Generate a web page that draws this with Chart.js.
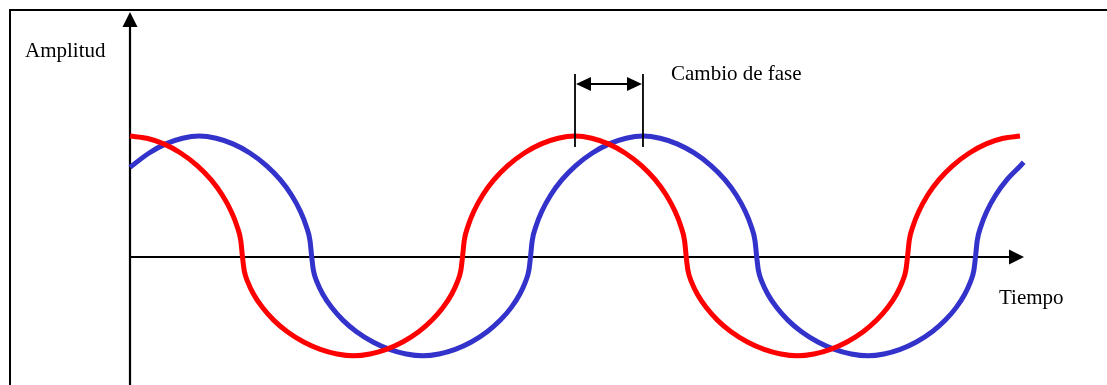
<!DOCTYPE html>
<html>
<head>
<meta charset="utf-8">
<script src="https://cdn.jsdelivr.net/npm/chart.js@4/dist/chart.umd.min.js"></script>
<style>
  html, body { margin: 0; padding: 0; background: #fff; }
  #wrap { width: 1107px; height: 385px; position: relative; }
</style>
</head>
<body>
<div id="wrap"><canvas id="c"></canvas></div>
<script>
// Time in degrees of phase, amplitude in arbitrary units
const redTime = [0, 13.65, 27.3, 40.95, 54.6, 65.52, 74.62, 81.9, 86.45, 89.64, 91,
  92.35, 95.5, 100, 107.2, 116.2, 127, 140.5, 154, 167.5, 181,
  194.2, 207.4, 220.6, 233.8, 244.36, 253.16, 260.2, 264.6, 267.68, 269,
  270.37, 273.55, 278.1, 285.38, 294.48, 305.4, 319.05, 332.7, 346.35, 360,
  373.5, 387, 400.5, 414, 424.8, 433.8, 441, 445.5, 448.65, 450,
  451.35, 454.5, 459, 466.2, 475.2, 486, 499.5, 513, 526.5, 540,
  553.35, 566.7, 580.05, 593.4, 604.08, 612.98, 620.1, 624.55, 627.67, 629,
  630.37, 633.55, 638.1, 645.38, 654.48, 665.4, 679.05, 692.7, 706.35, 720];
const redAmp = [1.2, 1.178, 1.122, 1.032, 0.905, 0.767, 0.615, 0.452, 0.311, 0.161, 0,
  -0.131, -0.254, -0.369, -0.502, -0.626, -0.739, -0.843, -0.916, -0.962, -0.98,
  -0.962, -0.916, -0.843, -0.739, -0.626, -0.502, -0.369, -0.254, -0.131, 0,
  0.161, 0.311, 0.452, 0.615, 0.767, 0.905, 1.032, 1.122, 1.178, 1.2,
  1.178, 1.122, 1.032, 0.905, 0.767, 0.615, 0.452, 0.311, 0.161, 0,
  -0.131, -0.254, -0.369, -0.502, -0.626, -0.739, -0.843, -0.916, -0.962, -0.98,
  -0.962, -0.916, -0.843, -0.739, -0.626, -0.502, -0.369, -0.254, -0.131, 0,
  0.161, 0.311, 0.452, 0.615, 0.767, 0.905, 1.032, 1.122, 1.178, 1.2];

const blueTime = [0, 15.5, 29, 42.5, 56,
  69.65, 83.3, 96.95, 110.6, 121.52, 130.62, 137.9, 142.45, 145.64, 147,
  148.35, 151.5, 156, 163.2, 172.2, 183, 196.5, 210, 223.5, 237,
  250.05, 263.1, 276.15, 289.2, 299.64, 308.34, 315.3, 319.65, 322.7, 324,
  325.37, 328.55, 333.1, 340.38, 349.48, 360.4, 374.05, 387.7, 401.35, 415,
  428.8, 442.6, 456.4, 470.2, 481.24, 490.44, 497.8, 502.4, 505.62, 507,
  508.35, 511.5, 516, 523.2, 532.2, 543, 556.5, 570, 583.5, 597,
  610.05, 623.1, 636.15, 649.2, 659.64, 668.34, 675.3, 679.65, 682.7, 684,
  685.37, 688.55, 693.1, 700.38, 709.48, 720.4, 723];
const blueAmp = [0.89, 1.032, 1.122, 1.178, 1.2,
  1.178, 1.122, 1.032, 0.905, 0.767, 0.615, 0.452, 0.311, 0.161, 0,
  -0.131, -0.254, -0.369, -0.502, -0.626, -0.739, -0.843, -0.916, -0.962, -0.98,
  -0.962, -0.916, -0.843, -0.739, -0.626, -0.502, -0.369, -0.254, -0.131, 0,
  0.161, 0.311, 0.452, 0.615, 0.767, 0.905, 1.032, 1.122, 1.178, 1.2,
  1.178, 1.122, 1.032, 0.905, 0.767, 0.615, 0.452, 0.311, 0.161, 0,
  -0.131, -0.254, -0.369, -0.502, -0.626, -0.739, -0.843, -0.916, -0.962, -0.98,
  -0.962, -0.916, -0.843, -0.739, -0.626, -0.502, -0.369, -0.254, -0.131, 0,
  0.161, 0.311, 0.452, 0.615, 0.767, 0.905, 0.94];

// Phase change marked between these two peaks (red, blue)
const phasePeaks = [360, 415];

const labels = { yAxis: 'Amplitud', xAxis: 'Tiempo', phase: 'Cambio de fase' };

const toPts = (xs, ys) => xs.map((x, i) => ({ x: x, y: ys[i] }));

const FONT = '21px "Liberation Serif", "Times New Roman", serif';

function arrowHead(ctx, tipX, tipY, dirX, dirY, len, half) {
  const bx = tipX - dirX * len, by = tipY - dirY * len;
  const px = -dirY, py = dirX;
  ctx.beginPath();
  ctx.moveTo(tipX, tipY);
  ctx.lineTo(bx + px * half, by + py * half);
  ctx.lineTo(bx - px * half, by - py * half);
  ctx.closePath();
  ctx.fill();
}

const diagramPlugin = {
  id: 'diagram',
  beforeDatasetsDraw(chart) {
    const ctx = chart.ctx;
    const xs = chart.scales.x, ys = chart.scales.y;
    const x0 = xs.getPixelForValue(0);
    const y0 = ys.getPixelForValue(0);
    const yTop = ys.getPixelForValue(ys.max);
    const xEnd = xs.getPixelForValue(xs.max);
    ctx.save();
    // frame (top and left)
    ctx.strokeStyle = '#000';
    ctx.lineWidth = 2;
    ctx.beginPath();
    ctx.moveTo(10, chart.height);
    ctx.lineTo(10, 10);
    ctx.lineTo(chart.width, 10);
    ctx.stroke();
    // vertical axis
    ctx.lineWidth = 2.2;
    ctx.beginPath();
    ctx.moveTo(x0, chart.height);
    ctx.lineTo(x0, yTop + 10);
    ctx.stroke();
    ctx.fillStyle = '#000';
    arrowHead(ctx, x0, yTop, 0, -1, 15, 7.5);
    // horizontal axis
    ctx.beginPath();
    ctx.moveTo(x0, y0);
    ctx.lineTo(xEnd - 10, y0);
    ctx.stroke();
    arrowHead(ctx, xEnd, y0, 1, 0, 15, 7.5);
    // texts
    ctx.font = FONT;
    ctx.textBaseline = 'alphabetic';
    ctx.textAlign = 'left';
    ctx.fillText(labels.yAxis, 25, 57);
    ctx.fillText(labels.xAxis, 999, y0 + 47);
    ctx.restore();
  },
  afterDatasetsDraw(chart) {
    const ctx = chart.ctx;
    const xs = chart.scales.x;
    const xa = xs.getPixelForValue(phasePeaks[0]);
    const xb = xs.getPixelForValue(phasePeaks[1]);
    ctx.save();
    ctx.strokeStyle = '#000';
    ctx.fillStyle = '#000';
    ctx.lineWidth = 1.8;
    ctx.beginPath();
    ctx.moveTo(xa, 74); ctx.lineTo(xa, 147);
    ctx.moveTo(xb, 74); ctx.lineTo(xb, 147);
    ctx.stroke();
    ctx.lineWidth = 2;
    ctx.beginPath();
    ctx.moveTo(xa + 10, 84); ctx.lineTo(xb - 10, 84);
    ctx.stroke();
    arrowHead(ctx, xa + 1, 84, -1, 0, 15, 7);
    arrowHead(ctx, xb - 1, 84, 1, 0, 15, 7);
    ctx.font = FONT;
    ctx.textBaseline = 'alphabetic';
    ctx.textAlign = 'left';
    ctx.fillText(labels.phase, xb + 28, 80);
    ctx.restore();
  }
};

new Chart(document.getElementById('c'), {
  type: 'line',
  data: {
    datasets: [
      { data: toPts(redTime, redAmp), borderColor: '#FF0000', borderWidth: 5,
        pointRadius: 0, cubicInterpolationMode: 'monotone', clip: false, fill: false },
      { data: toPts(blueTime, blueAmp), borderColor: '#3333CC', borderWidth: 5,
        pointRadius: 0, cubicInterpolationMode: 'monotone', clip: false, fill: false }
    ]
  },
  options: {
    responsive: true,
    maintainAspectRatio: false,
    animation: false,
    events: [],
    layout: { padding: { left: 130, right: 83, top: 12, bottom: 0 } },
    plugins: { legend: { display: false }, tooltip: { enabled: false }, title: { display: false } },
    scales: {
      x: { type: 'linear', min: 0, max: 723.24, display: false },
      y: { type: 'linear', min: -1.2698, max: 2.4306, display: false }
    }
  },
  plugins: [diagramPlugin]
});
</script>
</body>
</html>
